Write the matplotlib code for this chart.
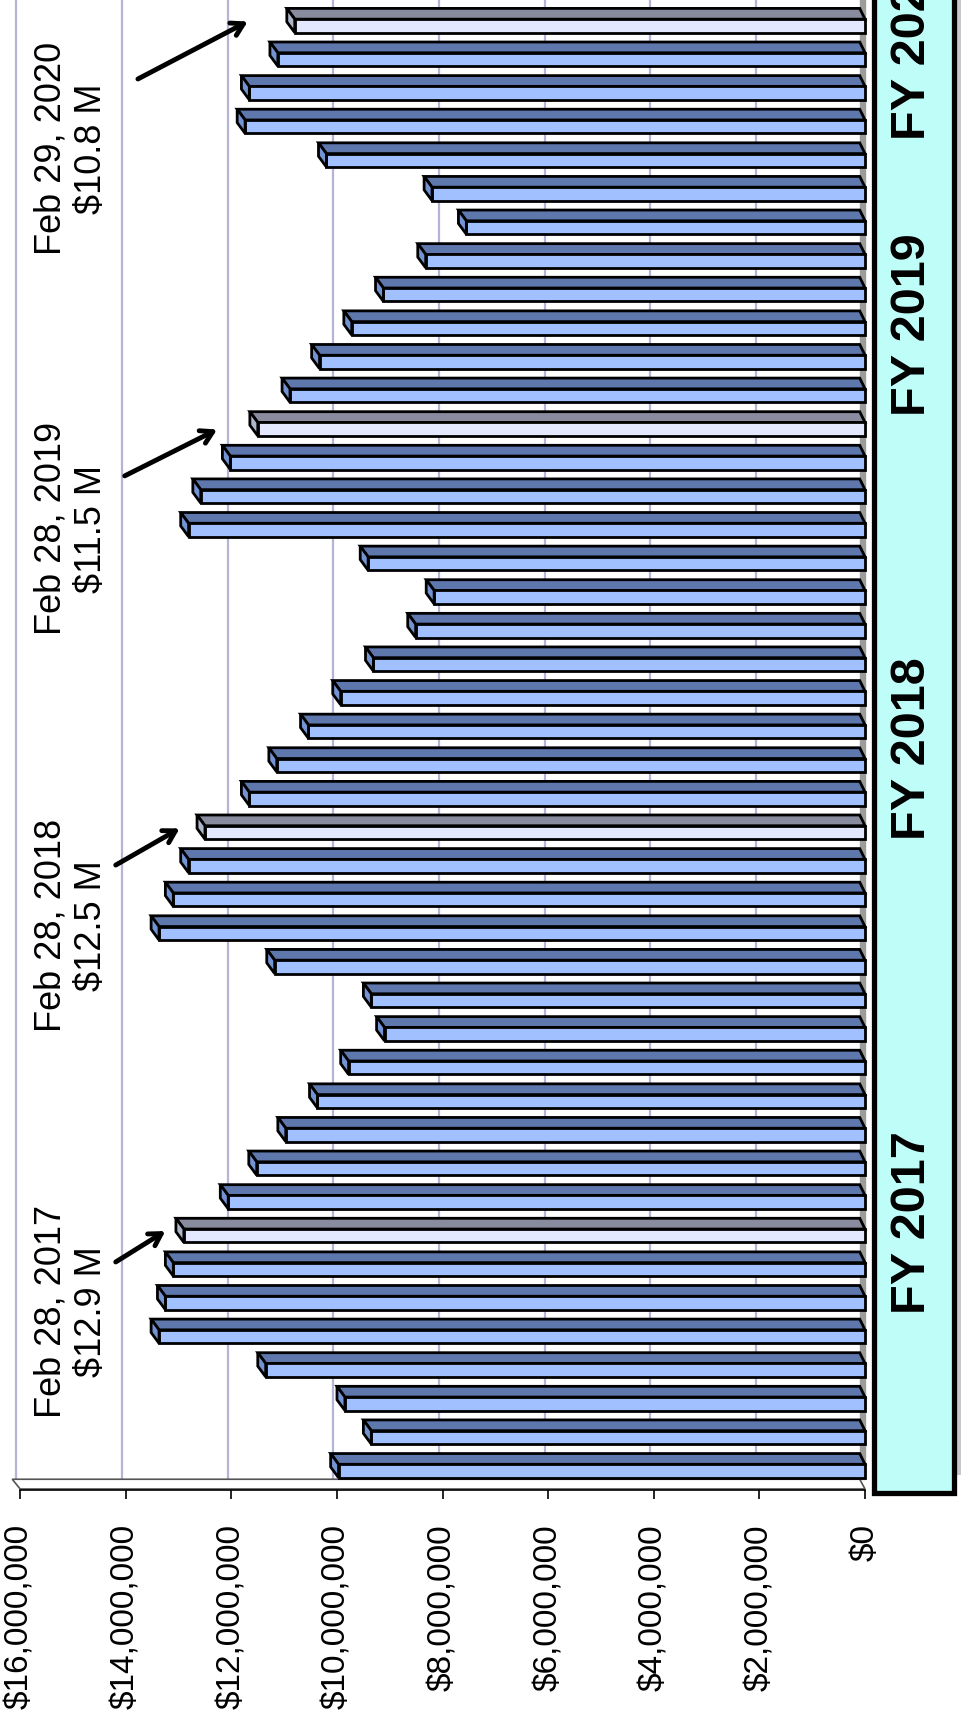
import matplotlib
matplotlib.use("Agg")
import matplotlib.pyplot as plt
import matplotlib.transforms as mtransforms
from matplotlib.patches import Polygon, Rectangle
import numpy as np
import pandas as pd

plt.rcParams['font.family'] = ['Liberation Sans', 'DejaVu Sans']

# monthly balance, Jul 2016 .. Feb 2020 (millions of dollars)
months = pd.period_range('2016-07', '2020-02', freq='M')
balance_m = [
    9.97, 9.35, 9.85, 11.35, 13.37, 13.25, 13.10, 12.90, 12.06, 11.52, 10.97, 10.37,
    9.78, 9.10, 9.35, 11.18, 13.37, 13.10, 12.81, 12.50, 11.66, 11.14, 10.54, 9.93,
    9.31, 8.51, 8.16, 9.41, 12.81, 12.58, 12.02, 11.50, 10.89, 10.33, 9.72, 9.12,
    8.32, 7.55, 8.20, 10.20, 11.74, 11.66, 11.12, 10.80,
]
fiscal_years = ['FY 2017', 'FY 2018', 'FY 2019', 'FY 2020']
callouts = [
    ('Feb 28, 2017', 12.9),
    ('Feb 28, 2018', 12.5),
    ('Feb 28, 2019', 11.5),
    ('Feb 29, 2020', 10.8),
]
tick_values = np.arange(0, 16_000_001, 2_000_000)

values = np.array(balance_m) * 1e6
is_feb = np.array([m.month == 2 for m in months])

W, H = 961, 1729
fig = plt.figure(figsize=(W / 100, H / 100), dpi=100)
fig.patch.set_facecolor('white')

# value axis runs right-to-left, months stacked bottom-to-top
ax = fig.add_axes([9.6 / W, (H - 1490) / H, (870.3 - 9.6) / W, 1490 / H])
ax.set_xlim(16.2e6, -0.1e6)
ax.set_ylim(-0.565, 43.77)

hf = 0.40      # front face height
dy = 0.32      # depth of the top face
dx = 0.15e6    # horizontal shift of the back edge
wall = 0.1e6   # thickness of the side wall behind the bar roots
edge_lw = 2.0

front_col = np.where(is_feb, '#E3E8FF', '#A0C0FF')
top_col = np.where(is_feb, '#898C9E', '#5E77AD')
cap_col = np.where(is_feb, '#AEB6CC', '#7393D3')

# back wall gridlines and side wall
floor_y = -0.565
ax.vlines(tick_values[1:] + 0.07e6, floor_y + dy, 44, color='#B4B4D8', lw=1.6, zorder=0)
ax.fill_betweenx([floor_y + dy, 44], 0, wall, color='#9C9C9C', zorder=0.5)

# floor strip
ax.add_patch(Polygon([(0, floor_y + 0.03), (16e6, floor_y + 0.03),
                      (16e6 + dx, floor_y + dy), (wall, floor_y + dy)],
                     closed=True, facecolor='white', edgecolor='#555555', lw=1.2, zorder=1))

ys = np.arange(len(values))
for y, v, fc, tc, cc in zip(ys, values, front_col, top_col, cap_col):
    yb, yt = y - hf / 2, y + hf / 2
    ax.add_patch(Polygon([(0, yt), (v, yt), (v + dx, yt + dy), (wall, yt + dy)],
                         closed=True, facecolor=tc, edgecolor='black', lw=edge_lw, zorder=2))
    ax.add_patch(Polygon([(v, yb), (v, yt), (v + dx, yt + dy), (v + dx, yb + dy)],
                         closed=True, facecolor=cc, edgecolor='black', lw=edge_lw, zorder=3))
ax.barh(ys, values, height=hf, left=0, color=front_col, edgecolor='black', lw=edge_lw, zorder=2.5)

# axis styling
for side in ['top', 'right', 'left']:
    ax.spines[side].set_visible(False)
ax.spines['bottom'].set_bounds(0, 16e6)
ax.spines['bottom'].set_linewidth(1.2)
ax.set_yticks([])
ax.set_xticks(tick_values)
ax.set_xticklabels(['${:,.0f}'.format(t) for t in tick_values], rotation=90, fontsize=24)
ax.tick_params(axis='x', direction='out', length=6.5, width=1.2, pad=18)
ax.set_facecolor('none')

# February callouts
feb_idx = np.where(is_feb)[0]
text_y = [4.75, 16.23, 28.04, 39.35]
tail_off = [(1.29e6, -0.78), (1.69e6, -0.97), (2.52e6, -1.39), (2.97e6, -1.58)]
tip_off = [(0.35e6, 0.14), (0.48e6, 0.12), (0.77e6, -0.01), (0.89e6, 0.13)]
for (date, amt), i, ty, (tx0, ty0), (px0, py0) in zip(callouts, feb_idx, text_y, tail_off, tip_off):
    v = amt * 1e6
    ax.text(15.03e6, ty, '{}\n${} M'.format(date, amt), rotation=90, ha='center', va='center',
            multialignment='center', fontsize=26, linespacing=1.2, zorder=5)
    ax.annotate('', xy=(v + px0, i + py0), xytext=(v + tx0, i + ty0),
                arrowprops=dict(arrowstyle='->,head_length=0.85,head_width=0.5',
                                lw=3.5, color='black', shrinkA=0, shrinkB=0), zorder=5)

# fiscal year band
fig.add_artist(Rectangle((956 / W, (H - 1475) / H), 5 / W, 1475 / H + 0.01,
                         transform=fig.transFigure, facecolor='#C8C8C8', edgecolor='none'))
fig.add_artist(Rectangle((874 / W, (H - 1493) / H), 80 / W, 1493 / H + 0.01,
                         transform=fig.transFigure, facecolor='#BFFDF8', edgecolor='black', lw=3.8))
band = mtransforms.blended_transform_factory(fig.transFigure, ax.transData)
for label, ly in zip(fiscal_years, [7.38, 21.49, 34.11, 42.32]):
    fig.text(912.5 / W, ly, label, transform=band, rotation=90, ha='center', va='center',
             fontsize=35, fontweight='bold')

fig.savefig('out.png', dpi=100)
